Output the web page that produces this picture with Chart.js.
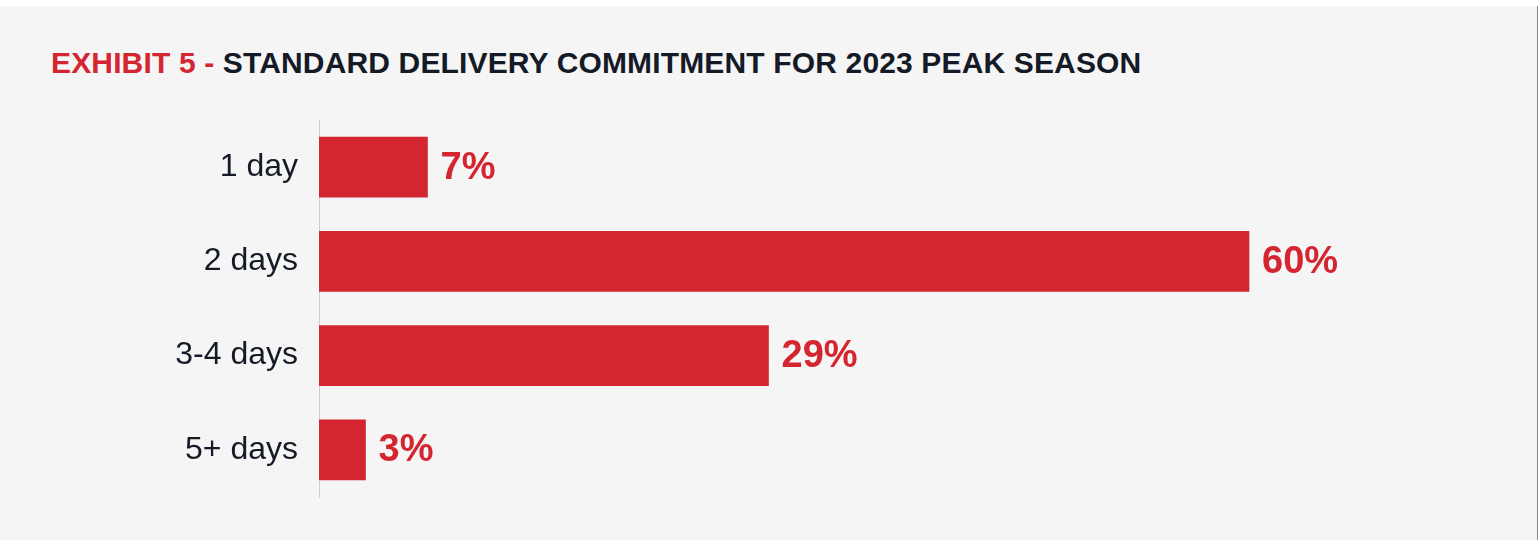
<!DOCTYPE html>
<html>
<head>
<meta charset="utf-8">
<script src="https://cdn.jsdelivr.net/npm/chart.js@4"></script>
<style>
  html, body { margin: 0; padding: 0; background: #ffffff; }
  body { width: 1539px; height: 540px; position: relative; overflow: hidden; }
  .panel {
    position: absolute; left: 0; top: 6px; width: 1537px; height: 534px;
    background: #f5f5f5; border-right: 1px solid #8a8a8a;
  }
  .title {
    position: absolute; left: 51px; top: 48px; margin: 0;
    font: bold 30px "Liberation Sans", Arial, sans-serif; line-height: 30px;
    color: #141a26; letter-spacing: 0.15px; white-space: nowrap;
  }
  .title .tag { color: #d42631; }
  #wrap { position: absolute; left: 0; top: 0; width: 1539px; height: 540px; }
</style>
</head>
<body>
<div class="panel"></div>
<h2 class="title"><span class="tag">EXHIBIT 5 -</span> STANDARD DELIVERY COMMITMENT FOR 2023 PEAK SEASON</h2>
<div id="wrap"><canvas id="deliveryChart" width="1539" height="540"></canvas></div>
<script>
// 배송 약속 기간별 응답 비율 (%)
const categories = ['1 day', '2 days', '3-4 days', '5+ days'];
const shares = [7, 60, 29, 3];

const RED = '#d42631';
const INK = '#141a26';

// 막대 끝에 값 라벨 그리기
const valueLabels = {
  id: 'valueLabels',
  afterDatasetsDraw(chart) {
    const { ctx } = chart;
    const meta = chart.getDatasetMeta(0);
    ctx.save();
    ctx.font = 'bold 38px "Liberation Sans", Arial, sans-serif';
    ctx.fillStyle = RED;
    ctx.textAlign = 'left';
    ctx.textBaseline = 'middle';
    meta.data.forEach((bar, i) => {
      ctx.fillText(shares[i] + '%', bar.x + 13, bar.y + 1);
    });
    ctx.restore();
  }
};

new Chart(document.getElementById('deliveryChart'), {
  type: 'bar',
  data: {
    labels: categories,
    datasets: [{
      data: shares,
      backgroundColor: RED,
      borderWidth: 0,
      barThickness: 60
    }]
  },
  options: {
    indexAxis: 'y',
    responsive: false,
    animation: false,
    layout: { padding: { top: 120, bottom: 43, left: 0, right: 135 } },
    plugins: {
      legend: { display: false },
      tooltip: { enabled: false }
    },
    scales: {
      x: {
        display: false,
        min: 0,
        max: 70
      },
      y: {
        grid: { display: false, drawTicks: false },
        border: { display: true, color: '#cfcfcf', width: 1 },
        ticks: {
          color: INK,
          padding: 21,
          font: { family: '"Liberation Sans", Arial, sans-serif', size: 32 }
        },
        afterFit(scale) { scale.width = 319; }
      }
    }
  },
  plugins: [valueLabels]
});
</script>
</body>
</html>
